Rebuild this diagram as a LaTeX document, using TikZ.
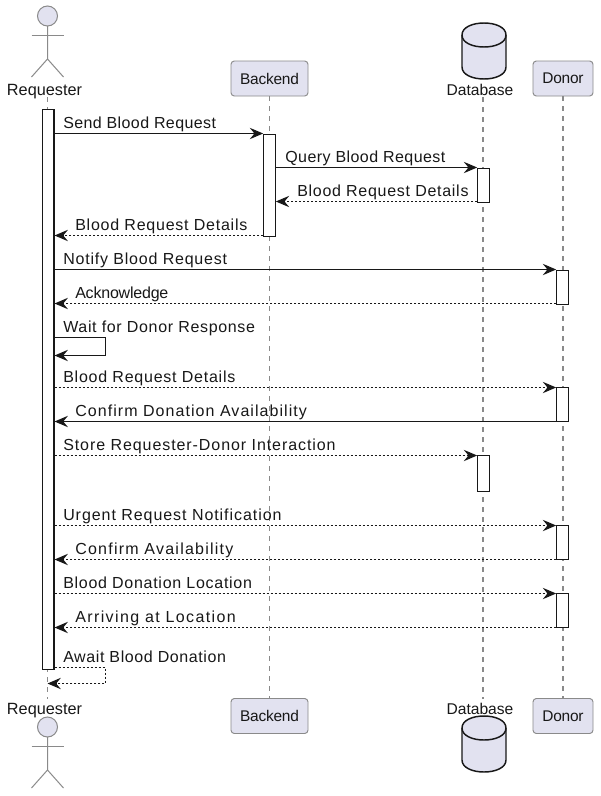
\documentclass[tikz,border=0pt]{standalone}
\usepackage{fontspec}
\setmainfont{Liberation Sans}
\usetikzlibrary{arrows.meta,calc}
\definecolor{partfill}{HTML}{E2E2F0}
\definecolor{ink}{HTML}{181818}
\definecolor{soft}{HTML}{8A8A8A}
\newcommand{\pfont}{\fontsize{11.6pt}{13pt}\selectfont\addfontfeature{LetterSpace=-1.5}}
\newcommand{\lfont}{\fontsize{11.7pt}{13pt}\selectfont}
\newcommand{\mfont}{\fontsize{12pt}{13pt}\selectfont}
\newcommand{\mtext}[2]{{\addfontfeature{LetterSpace=#1}#2}}
\newcommand{\actorfig}[1]{%
  \draw[figline,fill=partfill] ($(#1)+(0,10)$) circle[radius=10];
  \draw[figline] ($(#1)+(-16,29)$) -- ($(#1)+(16,29)$);
  \draw[figline] ($(#1)+(0,20)$) -- ($(#1)+(0,53)$) -- ($(#1)+(-16,71)$);
  \draw[figline] ($(#1)+(0,53)$) -- ($(#1)+(16,71)$);}
\newcommand{\dbfig}[1]{%
  \draw[dbline,fill=partfill] ($(#1)+(-22,12)$)
    .. controls ($(#1)+(-22,-4)$) and ($(#1)+(22,-4)$) .. ($(#1)+(22,12)$)
    -- ($(#1)+(22,44)$)
    .. controls ($(#1)+(22,60)$) and ($(#1)+(-22,60)$) .. ($(#1)+(-22,44)$)
    -- cycle;
  \draw[dbline] ($(#1)+(-22,12)$)
    .. controls ($(#1)+(-22,28)$) and ($(#1)+(22,28)$) .. ($(#1)+(22,12)$);}
\begin{document}
\begin{tikzpicture}[x=0.75pt,y=-0.75pt,
  figline/.style={draw=soft,line width=0.75pt},
  dbline/.style={draw=ink,line width=1.1pt},
  partbox/.style={draw=soft,fill=partfill,rounded corners=2.5pt,line width=0.7pt,
    minimum height=26.25pt,inner sep=0pt,text=ink,font=\pfont,anchor=center},
  partlabel/.style={inner sep=0pt,text=ink,font=\lfont,anchor=base},
  lifeline/.style={draw=soft,line width=0.8pt,dash pattern=on 3.75pt off 3.75pt},
  actbar/.style={draw=ink,fill=white,line width=0.95pt,minimum width=8.6pt,inner sep=0pt,anchor=north},
  msgsolid/.style={draw=ink,line width=0.8pt,-{Stealth[length=10pt,width=8.5pt,inset=3.5pt]}},
  msgdash/.style={msgsolid,dash pattern=on 1.5pt off 1.5pt},
  msglabel/.style={inner sep=0pt,text=ink,font=\mfont,anchor=base west}]
\useasboundingbox (0,0) rectangle (600,796);
\fill[white] (0,0) rectangle (600,796);

% participants, top
\coordinate (reqtopfig) at (47.5,6);
\node[partlabel] (reqtop) at (44.5,95) {\fontsize{12.2pt}{13pt}\selectfont Requester};
\node[partbox,minimum width=57.75pt] (betop) at (269.5,78.5) {Backend};
\coordinate (dbtopfig) at (484,23);
\node[partlabel] (dbtop) at (480,95) {Database};
\node[partbox,minimum width=45pt] (dotop) at (563,78.5) {Donor};

% participants, bottom
\coordinate (reqbotfig) at (47.5,717);
\node[partlabel] (reqbot) at (44.5,714) {\fontsize{12.2pt}{13pt}\selectfont Requester};
\node[partbox,minimum width=57.75pt] (bebot) at (269.5,716) {Backend};
\coordinate (dbbotfig) at (484,716);
\node[partlabel] (dbbot) at (480,714) {Database};
\node[partbox,minimum width=45pt] (dobot) at (563,716) {Donor};

% lifelines
\coordinate (reqlt) at (47.5,97); \coordinate (reqlb) at (47.5,699);
\coordinate (dblt) at (483,97);   \coordinate (dblb) at (483,699);
\draw[lifeline] (reqlt) -- (reqlb);
\draw[lifeline] (betop.south) -- (bebot.north);
\draw[lifeline] (dblt) -- (dblb);
\draw[lifeline] (dotop.south) -- (dobot.north);

\actorfig{reqtopfig}
\actorfig{reqbotfig}
\dbfig{dbtopfig}
\dbfig{dbbotfig}

% activation bars
\node[actbar,minimum height=420pt] (reqbar) at (48.2,109) {};
\node[actbar,minimum height=76.5pt] (bebar) at (269.5,133.5) {};
\node[actbar,minimum height=25.5pt] (dbbara) at (483.5,167.5) {};
\node[actbar,minimum height=27pt] (dbbarb) at (483.5,455) {};
\node[actbar,minimum height=25.5pt] (dobara) at (562.5,269.5) {};
\node[actbar,minimum height=25.5pt] (dobarb) at (562.5,387) {};
\node[actbar,minimum height=25.5pt] (dobarc) at (562.5,525) {};
\node[actbar,minimum height=25.5pt] (dobard) at (562.5,593) {};

% message rows
\coordinate (m1) at (0,133.5);
\coordinate (m2) at (0,167.5);
\coordinate (m3) at (0,201.5);
\coordinate (m4) at (0,235.5);
\coordinate (m5) at (0,269.5);
\coordinate (m6) at (0,303.5);
\coordinate (m7) at (0,337.5);
\coordinate (m7b) at (0,355.5);
\coordinate (m8) at (0,387.5);
\coordinate (m9) at (0,421.5);
\coordinate (m10) at (0,455.5);
\coordinate (m11) at (0,525.5);
\coordinate (m12) at (0,559.5);
\coordinate (m13) at (0,593.5);
\coordinate (m14) at (0,627.5);
\coordinate (m15) at (0,667.5);
\coordinate (m15b) at (0,683.5);
\coordinate (loopx) at (105.5,0);

\draw[msgsolid] (reqbar.east |- m1) -- (bebar.west |- m1);
\draw[msgsolid] (bebar.east |- m2) -- (dbbara.west |- m2);
\draw[msgdash] (dbbara.west |- m3) -- (bebar.east |- m3);
\draw[msgdash] (bebar.west |- m4) -- (reqbar.east |- m4);
\draw[msgsolid] (reqbar.east |- m5) -- (dobara.west |- m5);
\draw[msgdash] (dobara.west |- m6) -- (reqbar.east |- m6);
\draw[msgsolid] (reqbar.east |- m7) -- (loopx |- m7) -- (loopx |- m7b) -- (reqbar.east |- m7b);
\draw[msgdash] (reqbar.east |- m8) -- (dobarb.west |- m8);
\draw[msgsolid] (dobarb.west |- m9) -- (reqbar.east |- m9);
\draw[msgdash] (reqbar.east |- m10) -- (dbbarb.west |- m10);
\draw[msgdash] (reqbar.east |- m11) -- (dobarc.west |- m11);
\draw[msgdash] (dobarc.west |- m12) -- (reqbar.east |- m12);
\draw[msgdash] (reqbar.east |- m13) -- (dobard.west |- m13);
\draw[msgdash] (dobard.west |- m14) -- (reqbar.east |- m14);
\draw[msgdash] (reqbar.east |- m15) -- (loopx |- m15) -- (loopx |- m15b) -- (reqlb |- m15b);

% message labels
\node[msglabel] (l1) at (63,128.5) {\mtext{2.5}{Send Blood Request}};
\node[msglabel] (l2) at (285,162.5) {\mtext{2.8}{Query Blood Request}};
\node[msglabel] (l3) at (297,196.5) {\mtext{4.5}{Blood Request Details}};
\node[msglabel] (l4) at (75,230.5) {\mtext{4.8}{Blood Request Details}};
\node[msglabel] (l5) at (63,264.5) {\mtext{5}{Notify Blood Request}};
\node[msglabel] (l6) at (75,298.5) {\mtext{-1.3}{Acknowledge}};
\node[msglabel] (l7) at (63,332.5) {\mtext{4.2}{Wait for Donor Response}};
\node[msglabel] (l8) at (63,382.5) {\mtext{4.8}{Blood Request Details}};
\node[msglabel] (l9) at (75,416.5) {\mtext{6.6}{Confirm Donation Availability}};
\node[msglabel] (l10) at (63,450.5) {\mtext{5.8}{Store Requester-Donor Interaction}};
\node[msglabel] (l11) at (63,520.5) {\mtext{5.9}{Urgent Request Notification}};
\node[msglabel] (l12) at (75,554.5) {\mtext{7.8}{Confirm Availability}};
\node[msglabel] (l13) at (63,588.5) {\mtext{4.5}{Blood Donation Location}};
\node[msglabel] (l14) at (75,622.5) {\mtext{8.7}{Arriving at Location}};
\node[msglabel] (l15) at (63,662.5) {\mtext{3.7}{Await Blood Donation}};
\end{tikzpicture}
\end{document}
